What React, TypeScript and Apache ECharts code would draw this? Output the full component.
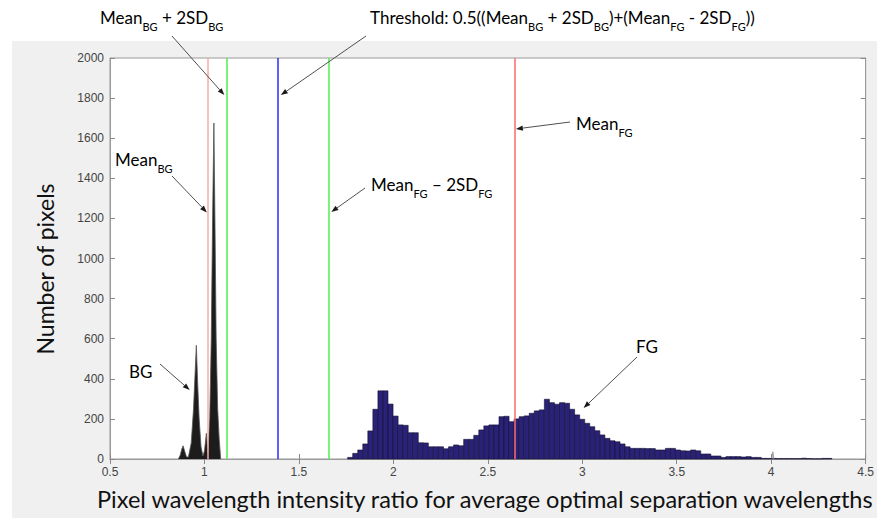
import React, { useEffect, useRef } from "react";
import * as echarts from "echarts";

// ---------- data ----------
// Foreground (FG) histogram: equal-width bins starting at fgBinStart
const fgBinStart = 1.758;
const fgBinWidth = 0.0267;
const fgCounts = [
  8, 28, 45, 75, 140, 248, 340, 340, 274, 214,
  170, 168, 131, 131, 81, 80, 61, 61, 61, 51,
  61, 70, 66, 98, 98, 118, 145, 165, 170, 170,
  211, 213, 186, 200, 211, 215, 228, 240, 245, 298,
  281, 273, 281, 278, 248, 220, 198, 178, 161, 141,
  120, 103, 91, 86, 75, 61, 53, 53, 53, 52,
  52, 45, 45, 53, 53, 45, 41, 40, 45, 41,
  25, 25, 15, 15, 8, 12, 12, 12, 10, 12,
  8, 8, 3, 3, 3, 2, 2, 2, 2, 2,
  4, 2, 1, 1, 3, 3,
];

// Background (BG) histogram outline (ratio, count)
const bgX = [0.862, 0.872, 0.880, 0.887, 0.895, 0.905, 0.915, 0.930, 0.942, 0.950, 0.957, 0.964, 0.972, 0.982, 0.992, 1.000, 1.010, 1.018, 1.028, 1.036, 1.043, 1.050, 1.056, 1.062, 1.070, 1.078, 1.086];
const bgY = [0, 20, 50, 66, 40, 10, 10, 80, 250, 420, 567, 380, 200, 60, 15, 40, 128, 30, 200, 600, 1200, 1676, 1150, 600, 250, 100, 0];
const outlierX = [4.004, 4.009, 4.014];
const outlierY = [0, 36, 0];

// statistics (vertical lines)
const meanBG = 1.018;
const sdBG = 0.049;
const meanFG = 2.638;
const sdFG = 0.4885;
const bgUpper = meanBG + 2 * sdBG;
const fgLower = meanFG - 2 * sdFG;
const threshold = 0.5 * (bgUpper + fgLower);

// axes
const xMin = 0.5, xMax = 4.5, xStep = 0.5;
const yMin = 0, yMax = 2000, yStep = 200;

const xTitle = "Pixel wavelength intensity ratio for average optimal separation wavelengths";
const yTitle = "Number of pixels";

const FONT = "Lato, 'Open Sans', sans-serif";
const TICKFONT = "'Liberation Sans', Arial, sans-serif";

function fitSize(text: string, target: number, base = 20) {
  const c = document.createElement("canvas").getContext("2d");
  if (!c) return base;
  c.font = `${base}px Lato`;
  const w = c.measureText(text).width;
  return w > 0 ? (base * target) / w : base;
}

const rich = {
  n: { fontSize: 17, fontFamily: FONT, color: "#1a1a1a", lineHeight: 22, verticalAlign: "top" },
  s: { fontSize: 11, fontFamily: FONT, color: "#3a3a3a", lineHeight: 10, verticalAlign: "top", padding: [12, 0, 0, 0] },
};

export default function App() {
  const ref = useRef<HTMLDivElement>(null);

  useEffect(() => {
    if (!ref.current) return;
    const chart = echarts.init(ref.current, null, { renderer: "svg" });

    const fgData = fgCounts.map((c, i) => [
      fgBinStart + i * fgBinWidth,
      fgBinStart + (i + 1) * fgBinWidth,
      c,
    ]);
    const bgData = bgX.map((x, i) => [x, bgY[i]]);
    const outData = outlierX.map((x, i) => [x, outlierY[i]]);

    const axisLine = { show: true, lineStyle: { color: "#9a9a9a", width: 1 } };
    const tick = { show: true, inside: true, length: 5, lineStyle: { color: "#8a8a8a" } };

    const vline = (v: number, color: string) => ({
      xAxis: v,
      lineStyle: { color, width: 1.5, type: "solid" },
    });

    chart.setOption({
      animation: false,
      backgroundColor: "#ffffff",
      grid: {
        left: 110,
        right: 7,
        top: 58,
        bottom: 59,
        show: true,
        backgroundColor: "#ffffff",
        borderColor: "#9a9a9a",
        borderWidth: 1,
      },
      xAxis: [
        {
          type: "value", min: xMin, max: xMax, interval: xStep, position: "bottom",
          axisLine, axisTick: tick, splitLine: { show: false },
          axisLabel: { color: "#444", fontSize: 12, margin: 7, fontFamily: TICKFONT, formatter: (v: number) => String(v) },
        },
        {
          type: "value", min: xMin, max: xMax, interval: xStep, position: "top",
          axisLine, axisTick: tick, splitLine: { show: false }, axisLabel: { show: false },
        },
      ],
      yAxis: [
        {
          type: "value", min: yMin, max: yMax, interval: yStep, position: "left",
          axisLine, axisTick: tick, splitLine: { show: false },
          axisLabel: { color: "#444", fontSize: 12, margin: 6, fontFamily: TICKFONT, formatter: (v: number) => String(v) },
        },
        {
          type: "value", min: yMin, max: yMax, interval: yStep, position: "right",
          axisLine, axisTick: tick, splitLine: { show: false }, axisLabel: { show: false },
        },
      ],
      series: [
        {
          type: "custom",
          name: "FG",
          xAxisIndex: 0,
          yAxisIndex: 0,
          z: 2,
          encode: { x: [0, 1], y: 2 },
          data: fgData,
          renderItem: (params: any, api: any) => {
            const p0 = api.coord([api.value(0), api.value(2)]);
            const p1 = api.coord([api.value(1), 0]);
            return {
              type: "rect",
              shape: { x: p0[0], y: p0[1], width: p1[0] - p0[0], height: p1[1] - p0[1] },
              style: { fill: "#2a2278", stroke: "#14102e", lineWidth: 0.6 },
            };
          },
        },
        {
          type: "line",
          name: "BG",
          xAxisIndex: 0,
          yAxisIndex: 0,
          z: 3,
          data: bgData,
          showSymbol: false,
          smooth: false,
          lineStyle: { color: "#555", width: 0.8 },
          areaStyle: { color: "#1c1c1c", opacity: 1 },
        },
        {
          type: "line",
          name: "outlier",
          xAxisIndex: 0,
          yAxisIndex: 0,
          z: 3,
          data: outData,
          showSymbol: false,
          lineStyle: { color: "#8a8a8a", width: 0.8 },
        },
        {
          type: "line",
          name: "lines",
          xAxisIndex: 0,
          yAxisIndex: 0,
          z: 5,
          data: [],
          markLine: {
            silent: true,
            symbol: ["none", "none"],
            label: { show: false },
            animation: false,
            data: [
              vline(meanBG, "#ffa8a8"),
              vline(bgUpper, "#4cf04c"),
              vline(threshold, "#2b2bff"),
              vline(fgLower, "#4cf04c"),
              vline(meanFG, "#ff6a6a"),
            ],
          },
        },
      ],
    });

    const px = (x: number, y: number, dx = 0, dy = 0) => {
      const p = chart.convertToPixel({ gridIndex: 0 }, [x, y]) as number[];
      return [p[0] + dx, p[1] + dy];
    };

    const arrow = (sx: number, sy: number, tip: number[]) => {
      const [tx, ty] = tip;
      const dx = tx - sx, dy = ty - sy;
      const len = Math.hypot(dx, dy);
      const ux = dx / len, uy = dy / len;
      const hl = 7, hw = 2.6;
      const bx = tx - ux * hl, by = ty - uy * hl;
      return [
        {
          type: "line", z: 50,
          shape: { x1: sx, y1: sy, x2: bx, y2: by },
          style: { stroke: "#505050", lineWidth: 1 },
        },
        {
          type: "polygon", z: 50,
          shape: { points: [[tx, ty], [bx - uy * hw, by + ux * hw], [bx + uy * hw, by - ux * hw]] },
          style: { fill: "#1a1a1a" },
        },
      ];
    };

    const label = (x: number, y: number, text: string) => ({
      type: "text", z: 50, x, y,
      style: { text, rich, align: "left", verticalAlign: "middle" },
    });

    const xTitleSize = fitSize(xTitle, 778);
    const yTitleSize = fitSize(yTitle, 172);

    chart.setOption({
      graphic: [
        { type: "rect", z: -10, silent: true, shape: { x: 12, y: 41, width: 865, height: 477 }, style: { fill: "#f0f0f0" } },
        {
          type: "text", z: 50, x: 97, y: 499,
          style: { text: xTitle, fontFamily: FONT, fontSize: xTitleSize, fill: "#111", align: "left", verticalAlign: "middle" },
        },
        {
          type: "text", z: 50, x: 45, y: 269, rotation: Math.PI / 2,
          style: { text: yTitle, fontFamily: FONT, fontSize: yTitleSize, fill: "#111", align: "center", verticalAlign: "middle" },
        },
        label(100, 20, "{n|Mean}{s|BG}{n| + 2SD}{s|BG}"),
        ...arrow(172, 36, px(bgUpper, 1815, -2)),
        label(370, 20, "{n|Threshold: 0.5((Mean}{s|BG}{n| + 2SD}{s|BG}{n|)+(Mean}{s|FG}{n| - 2SD}{s|FG}{n|))}"),
        ...arrow(366, 36, px(threshold, 1815, 3)),
        label(115, 162, "{n|Mean}{s|BG}"),
        ...arrow(172, 176, px(meanBG, 1230, -1)),
        label(129, 374, "{n|BG}"),
        ...arrow(160, 364, px(0.922, 344)),
        label(371, 187, "{n|Mean}{s|FG}{n| \u2013 2SD}{s|FG}"),
        ...arrow(365, 188, px(fgLower, 1232, 2)),
        label(576, 126, "{n|Mean}{s|FG}"),
        ...arrow(570, 122, px(meanFG, 1646, 2)),
        label(636, 349, "{n|FG}"),
        ...arrow(637, 357, px(3.007, 254)),
      ],
    });

    return () => chart.dispose();
  }, []);

  return (
    <div
      ref={ref}
      style={{ position: "absolute", left: 0, top: 0, width: 877, height: 518 }}
    />
  );
}
